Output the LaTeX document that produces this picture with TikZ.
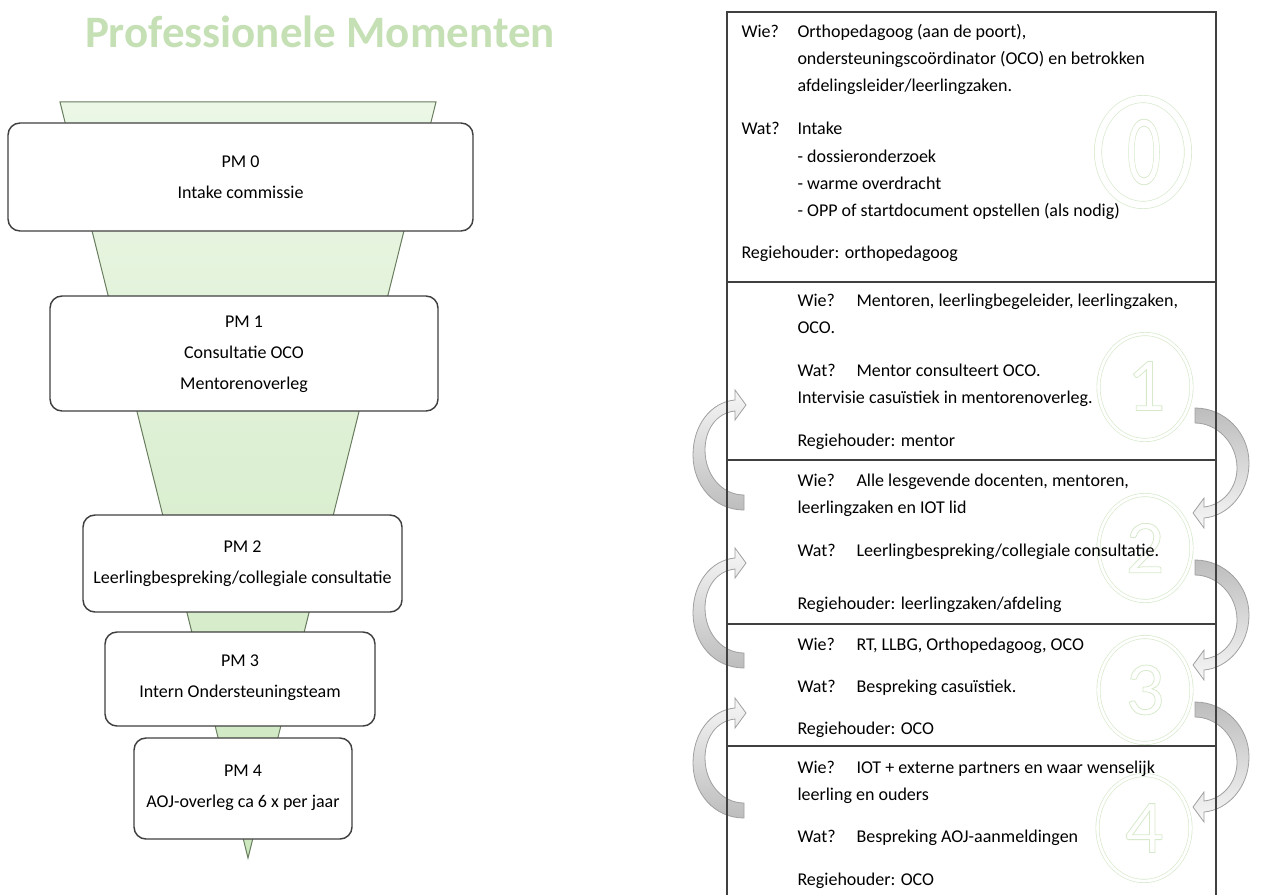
\documentclass[tikz,border=0pt]{standalone}
\usepackage{fontspec}
\setmainfont{Carlito}
\usepackage{graphicx}

\definecolor{titlegreen}{RGB}{197,224,180}
\definecolor{ringgreen}{RGB}{214,233,203}
\definecolor{funneltop}{RGB}{236,247,230}
\definecolor{funnelbot}{RGB}{204,231,190}
\definecolor{funnelline}{RGB}{105,125,95}
\definecolor{arrowgray}{RGB}{189,189,189}
\definecolor{arrowlight}{RGB}{246,246,246}
\definecolor{arrowline}{RGB}{160,160,160}
\definecolor{panelline}{RGB}{64,64,64}

\newcommand\ringdigit[1]{\special{pdf:literal 1 Tr 0.6 w}#1\special{pdf:literal 0 Tr}}

\tikzset{every picture/.style={line width=0.75pt}}
\tikzset{
  pmbox/.style={draw=panelline, line width=1.1pt, rounded corners=9pt, fill=white},
  pmtext/.style={inner sep=0.75pt, align=center, font=\fontsize{13.5}{23.25}\selectfont},
  paneltext/.style={anchor=base west, inner sep=0pt, font=\fontsize{13.5}{16}\selectfont},
  ring/.style={draw=ringgreen, line width=0.5pt, double=white, double distance=2pt},
  ringnum/.style={text=ringgreen, inner sep=0pt, font=\fontsize{57}{57}\selectfont},
  bendup/.style={draw=arrowline, line width=0.6pt, top color=arrowlight, bottom color=arrowgray},
  benddown/.style={draw=arrowline, line width=0.6pt, top color=arrowgray, bottom color=arrowlight}
}

\begin{document}
\begin{tikzpicture}[x=0.75pt,y=0.75pt,yscale=-1,xscale=1]
\useasboundingbox (0,0) rectangle (1262,895);

% Title
\node [text=titlegreen, inner sep=0pt, font=\fontsize{33.75}{36}\selectfont\bfseries] (title) at (320,32) {Professionele Momenten};

%Shape: Funnel
\draw [draw=funnelline, top color=funneltop, bottom color=funnelbot] (60,102) -- (436,102) -- (248,858) -- cycle ;

%Rounded Rect: PM boxes
\draw [pmbox] (8,123) rectangle (473,231) ;
\draw [pmbox] (50,296) rectangle (438,411) ;
\draw [pmbox] (83,515) rectangle (402,612) ;
\draw [pmbox] (105,632) rectangle (375,726) ;
\draw [pmbox] (134,738) rectangle (352,839) ;

% Text Node
\node [pmtext] (pm0) at (240.5,177) {PM 0\\Intake commissie};
\node [pmtext] (pm1) at (244,354) {PM 1\\Consultatie OCO\\Mentorenoverleg};
\node [pmtext] (pm2) at (242.5,563.5) {PM 2\\Leerlingbespreking/collegiale consultatie};
\node [pmtext] (pm3) at (240,678) {PM 3\\Intern Ondersteuningsteam};
\node [pmtext] (pm4) at (243,787.5) {PM 4\\AOJ-overleg ca 6 x per jaar};

%Shape: Rings with numbers
\draw [ring, double distance=5pt] (1143,152) ellipse [x radius=45, y radius=53] ;
\draw [ring] (1145,387) ellipse [x radius=46.5, y radius=53] ;
\draw [ring] (1145,548) ellipse [x radius=46.5, y radius=53] ;
\draw [ring] (1145,690) ellipse [x radius=46.5, y radius=53] ;
\draw [ring] (1144,828) ellipse [x radius=46.5, y radius=53] ;
\node [ringnum, font=\fontsize{75}{75}\selectfont] (num0) at (1144,152) {\scalebox{0.68}[1]{\ringdigit{0}}};
\node [ringnum] (num1) at (1146,386) {\ringdigit{1}};
\node [ringnum] (num2) at (1145,548) {\ringdigit{2}};
\node [ringnum] (num3) at (1145,690) {\ringdigit{3}};
\node [ringnum] (num4) at (1144,828) {\ringdigit{4}};

%Shape: Curved arrows, left (upwards) and right (downwards)
\foreach \yb in {510,668,818} {
  \draw [bendup, shift={(744,\yb)}] (0,0) .. controls (-30,0) and (-51,-25) .. (-51,-55) .. controls (-51,-85) and (-33,-108) .. (-9,-110) -- (-9,-120) -- (2,-105) -- (-9,-90) -- (-9,-99) .. controls (-28,-97) and (-39,-80) .. (-39,-60) .. controls (-39,-35) and (-22,-15) .. (0,-15) -- cycle ;
}
\foreach \yt in {408,560,702} {
  \draw [benddown, shift={(1195,\yt)}, rotate=180] (0,0) .. controls (-30,0) and (-54,-25) .. (-54,-55) .. controls (-54,-85) and (-33,-108) .. (-9,-110) -- (-9,-120) -- (2,-105) -- (-9,-90) -- (-9,-99) .. controls (-28,-97) and (-42,-80) .. (-42,-60) .. controls (-42,-35) and (-22,-15) .. (0,-15) -- cycle ;
}

%Straight Lines: panel
\draw [draw=panelline, line width=1.1pt] (727,895) -- (727,12) -- (1216,12) -- (1216,895) ;
\foreach \y in {282,460,624,746} {
  \draw [draw=panelline, line width=1.1pt] (727,\y) -- (1216,\y) ;
}

% Text Node: moment 0
\node [paneltext] (wie0) at (741,38) {Wie?};
\node [paneltext] (wie0a) at (797,38) {Orthopedagoog (aan de poort),};
\node [paneltext] (wie0b) at (797,65) {ondersteuningscoördinator (OCO) en betrokken};
\node [paneltext] (wie0c) at (797,92) {afdelingsleider/leerlingzaken.};
\node [paneltext] (wat0) at (741,135) {Wat?};
\node [paneltext] (wat0a) at (797,135) {Intake};
\node [paneltext] (wat0b) at (797,162) {- dossieronderzoek};
\node [paneltext] (wat0c) at (797,189) {- warme overdracht};
\node [paneltext] (wat0d) at (797,216) {- OPP of startdocument opstellen (als nodig)};
\node [paneltext] (regie0) at (741,258) {Regiehouder: orthopedagoog};
% Text Node: moment 1
\node [paneltext] (wie1) at (797,306) {Wie?};
\node [paneltext] (wie1a) at (856,306) {Mentoren, leerlingbegeleider, leerlingzaken,};
\node [paneltext] (wie1b) at (797,333) {OCO.};
\node [paneltext] (wat1) at (797,376) {Wat?};
\node [paneltext] (wat1a) at (856,376) {Mentor consulteert OCO.};
\node [paneltext] (wat1b) at (797,403) {Intervisie casuïstiek in mentorenoverleg.};
\node [paneltext] (regie1) at (797,446) {Regiehouder: mentor};
% Text Node: moment 2
\node [paneltext] (wie2) at (797,486) {Wie?};
\node [paneltext] (wie2a) at (856,486) {Alle lesgevende docenten, mentoren,};
\node [paneltext] (wie2b) at (797,513) {leerlingzaken en IOT lid};
\node [paneltext] (wat2) at (797,556) {Wat?};
\node [paneltext] (wat2a) at (856,556) {Leerlingbespreking/collegiale consultatie.};
\node [paneltext] (regie2) at (797,609) {Regiehouder: leerlingzaken/afdeling};
% Text Node: moment 3
\node [paneltext] (wie3) at (797,650) {Wie?};
\node [paneltext] (wie3a) at (856,650) {RT, LLBG, Orthopedagoog, OCO};
\node [paneltext] (wat3) at (797,692) {Wat?};
\node [paneltext] (wat3a) at (856,692) {Bespreking casuïstiek.};
\node [paneltext] (regie3) at (797,734) {Regiehouder: OCO};
% Text Node: moment 4
\node [paneltext] (wie4) at (797,773) {Wie?};
\node [paneltext] (wie4a) at (856,773) {IOT + externe partners en waar wenselijk};
\node [paneltext] (wie4b) at (797,800) {leerling en ouders};
\node [paneltext] (wat4) at (797,842) {Wat?};
\node [paneltext] (wat4a) at (856,842) {Bespreking AOJ-aanmeldingen};
\node [paneltext] (regie4) at (797,885) {Regiehouder: OCO};

\end{tikzpicture}
\end{document}
